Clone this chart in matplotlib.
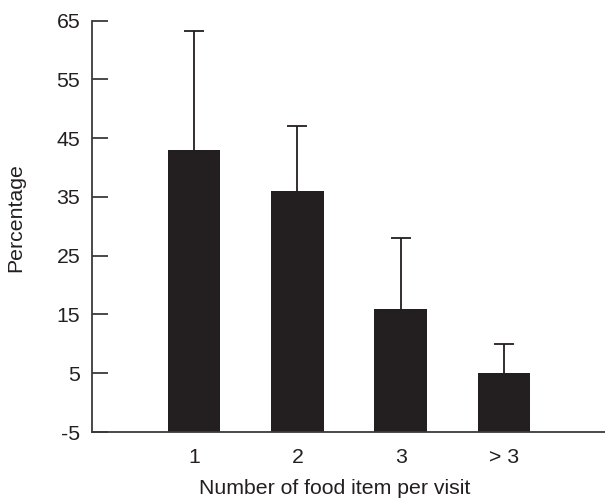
import matplotlib
matplotlib.use("Agg")
import matplotlib.pyplot as plt
import numpy as np

plt.rcParams['font.family'] = ['Liberation Sans', 'DejaVu Sans']

categories = ["1", "2", "3", "> 3"]
percentages = [43, 36, 16, 5]
upper_errors = [20.2, 11.1, 12, 5]

y_ticks = [-5, 5, 15, 25, 35, 45, 55, 65]

ink = "#231f20"

fig = plt.figure(figsize=(6.05, 5.0), dpi=100)
ax = fig.add_axes([0.152, 0.136, 0.848, 0.823])

x = np.arange(1, len(categories) + 1)
base = -5
heights = [p - base for p in percentages]
ax.bar(x, heights, bottom=base, width=0.51, color=ink, edgecolor="none", zorder=2)
_, caps, _ = ax.errorbar(x, percentages, yerr=[np.zeros(len(x)), upper_errors], fmt="none",
                         ecolor=ink, elinewidth=1.3, capsize=7, capthick=1.3, zorder=1)
# only the upper whisker carries a cap
caps[0].set_visible(False)

ax.set_xlim(0.01, 4.98)
ax.set_ylim(-5, 65)
ax.set_yticks(y_ticks)
ax.set_yticklabels([str(t) for t in y_ticks])
ax.set_xticks(x)
ax.set_xticklabels(categories)

for side in ("top", "right"):
    ax.spines[side].set_visible(False)
for side in ("left", "bottom"):
    ax.spines[side].set_color("#3a3a3a")
    ax.spines[side].set_linewidth(1.3)

ax.tick_params(axis="y", direction="in", length=11.5, width=1.3, color="#3a3a3a",
               pad=8.5, labelsize=15.3, labelcolor=ink)
ax.tick_params(axis="x", length=0, pad=11.5, labelsize=15.3, labelcolor=ink)

ax.set_xlabel("Number of food item per visit", fontsize=15.3, color=ink)
ax.set_ylabel("Percentage", fontsize=15.3, color=ink)
ax.xaxis.set_label_coords(0.473, -0.115)
ax.yaxis.set_label_coords(-0.131, 0.52)

fig.savefig("out.png", dpi=100)
